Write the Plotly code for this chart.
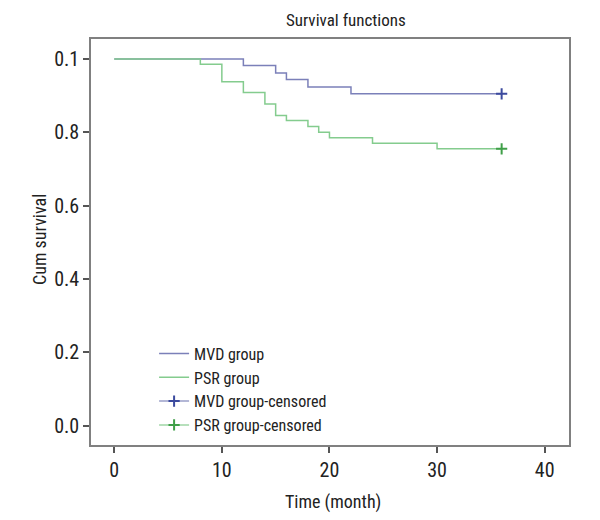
import plotly.graph_objects as go

# Kaplan-Meier step data
mvd_time = [0, 12, 15, 16, 18, 22, 36]
mvd_surv = [1.0, 0.982, 0.962, 0.944, 0.924, 0.905, 0.905]
psr_time = [0, 8, 10, 12, 14, 15, 16, 18, 19, 20, 24, 30, 36]
psr_surv = [1.0, 0.986, 0.938, 0.909, 0.877, 0.846, 0.832, 0.816, 0.800, 0.785, 0.770, 0.755, 0.755]
mvd_cens_time = [36]
mvd_cens_surv = [0.905]
psr_cens_time = [36]
psr_cens_surv = [0.755]

x_ticks = [0, 10, 20, 30, 40]
y_ticks = [0.0, 0.2, 0.4, 0.6, 0.8, 1.0]
y_tick_text = ["0.0", "0.2", "0.4", "0.6", "0.8", "0.1"]

FONT = "Roboto Condensed, Liberation Sans Narrow, Arial Narrow, Liberation Sans, sans-serif"
BLUE_LINE = "#7b80b9"
GREEN_LINE = "#84cc8e"
BLUE_MARK = "#3b4a9e"
GREEN_MARK = "#3f9f48"

fig = go.Figure()
fig.add_trace(go.Scatter(x=mvd_time, y=mvd_surv, mode="lines", line_shape="hv",
                         line=dict(color=BLUE_LINE, width=1.5), name="MVD group"))
fig.add_trace(go.Scatter(x=psr_time, y=psr_surv, mode="lines", line_shape="hv",
                         line=dict(color=GREEN_LINE, width=1.5), name="PSR group"))
fig.add_trace(go.Scatter(x=mvd_cens_time, y=mvd_cens_surv, mode="lines+markers",
                         line=dict(color="#9a9fc8", width=1.5),
                         marker=dict(symbol="cross-thin", size=8,
                                     line=dict(color=BLUE_MARK, width=2)),
                         name="MVD group-censored"))
fig.add_trace(go.Scatter(x=psr_cens_time, y=psr_cens_surv, mode="lines+markers",
                         line=dict(color="#9fd6a6", width=1.5),
                         marker=dict(symbol="cross-thin", size=8,
                                     line=dict(color=GREEN_MARK, width=2)),
                         name="PSR group-censored"))

# page body has an 8px margin, so the figure is drawn 8px smaller and margins shifted
fig.update_layout(
    width=592, height=512,
    margin=dict(l=83, r=31, t=31, b=75, autoexpand=False),
    paper_bgcolor="white", plot_bgcolor="white",
    font=dict(family=FONT, size=17, color="#222222"),
    xaxis=dict(range=[-2.16, 42.26], tickvals=x_ticks, ticks="outside", ticklen=6,
               tickcolor="#555555", tickwidth=1.5, showgrid=False, zeroline=False,
               showline=True, linecolor="#808080", linewidth=1.5, mirror=True,
               automargin=False, tickfont=dict(size=20)),
    yaxis=dict(range=[-0.0527, 1.0546], tickvals=y_ticks, ticktext=y_tick_text,
               ticks="outside", ticklen=6, tickcolor="#555555", tickwidth=1.5,
               showgrid=False, zeroline=False,
               showline=True, linecolor="#808080", linewidth=1.5, mirror=True,
               automargin=False, tickfont=dict(size=20)),
    legend=dict(x=0.132, y=0.267, xanchor="left", yanchor="top",
                bgcolor="rgba(0,0,0,0)", font=dict(size=16), tracegroupgap=0,
                itemwidth=30),
    showlegend=True,
    annotations=[
        dict(text="Survival functions", xref="paper", yref="paper",
             x=(346 - 91) / 478, y=1 + (39 - 20) / 406,
             xanchor="center", yanchor="middle", showarrow=False, font=dict(size=17)),
        dict(text="Time (month)", xref="paper", yref="paper",
             x=(333 - 91) / 478, y=-(502 - 445) / 406,
             xanchor="center", yanchor="middle", showarrow=False, font=dict(size=18)),
        dict(text="Cum survival", xref="paper", yref="paper",
             x=-(91 - 39) / 478, y=(445 - 240) / 406, textangle=-90,
             xanchor="center", yanchor="middle", showarrow=False, font=dict(size=18)),
    ],
)

fig.write_html("out.html")
